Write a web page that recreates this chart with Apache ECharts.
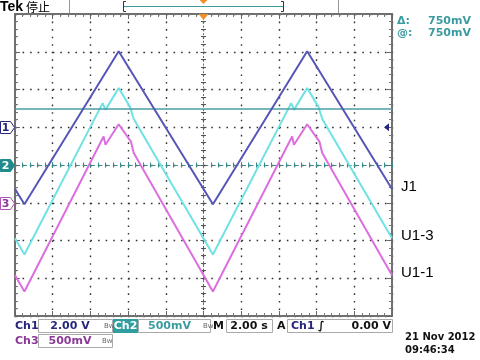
<!DOCTYPE html>
<html><head><meta charset="utf-8">
<script src="https://cdn.jsdelivr.net/npm/echarts@6/dist/echarts.min.js"></script>
<style>html,body{margin:0;padding:0;background:#fff}#c{width:480px;height:360px}</style>
</head><body><div id="c"></div>
<script>
// ---------- data (time in s, voltages in V) ----------
const j1Time  = [-10, -9.5, -4.5, 0.5, 5.5, 10];
const j1Volts = [-3.27, -4.08, 4.03, -4.08, 4.03, -3.27];

const u13Time  = [-10, -9.5, -5.35, -5.2, -4.5, -3.9, -3.7, 0.5, 4.65, 4.8, 5.5, 6.1, 6.3, 10];
const u13Volts = [-0.97, -1.185, 0.82, 0.73, 1.02, 0.77, 0.61, -1.185, 0.82, 0.73, 1.02, 0.77, 0.61, -0.97];

const u11Time  = [-10, -9.5, -5.3, -5.2, -4.5, -3.85, -3.7, 0.5, 4.7, 4.8, 5.5, 6.15, 6.3, 10];
const u11Volts = [-0.96, -1.175, 0.878, 0.768, 1.04, 0.81, 0.66, -1.175, 0.878, 0.768, 1.04, 0.81, 0.66, -0.96];

const seriesNames   = ['J1', 'U1-3', 'U1-1'];
const chVoltsPerDiv = [2.0, 0.5, 0.5];   // Ch1, Ch2, Ch3
const chGroundDiv   = [1, 0, -1];        // channel ground positions (divisions)
const cursorVolts   = 0.75;              // Ch2 cursor
const timeMin = -10, timeMax = 10, timeStep = 2;
const divMin = -4, divMax = 4;

const readCh1 = '2.00 V', readCh2 = '500mV', readCh3 = '500mV';
const readTime = '2.00 s', readTrig = '0.00 V';
const cursorDelta = '750mV', cursorAt = '750mV';
const dateText = '21 Nov 2012', timeText = '09:46:34';

// ---------- chart ----------
const chart = echarts.init(document.getElementById('c'), null, {renderer: 'canvas'});
const toDiv = (v, ch) => v / chVoltsPerDiv[ch] + chGroundDiv[ch];
const pairs = (ts, vs, ch) => ts.map((t, i) => [t, toDiv(vs[i], ch)]);

const C1 = '#5656b8', C2 = '#6fe2e4', C3 = '#dc6fdf';
const navy = '#26267e', teal = '#3a9ca0', purple = '#8a3a96';
const gridDot = {color: '#333', width: 1.4, type: [1.6, 5.95]};
const splitDot = {show: true, lineStyle: gridDot};
const xb = {type: 'value', min: timeMin, max: timeMax, interval: timeStep, axisLabel: {show: false}, splitLine: {show: false}};
const yb = {type: 'value', min: divMin, max: divMax, interval: 1, axisLabel: {show: false}, splitLine: {show: false}};
const edge = {show: true, onZero: false, lineStyle: {color: '#707070', width: 2}};
const edgeTick = {show: true, inside: true, length: 5, lineStyle: {color: '#666', width: 1}};
const edgeMinor = {show: true, splitNumber: 5, length: 3, lineStyle: {color: '#777', width: 1}};
const cTickT = {show: true, length: 3, lineStyle: {color: '#3a8a8a', width: 1}};
const cMinorT = {show: true, splitNumber: 5, length: 2.5, lineStyle: {color: '#3a8a8a', width: 1}};
const cTickG = {show: true, length: 3, lineStyle: {color: '#555', width: 1}};
const cMinorG = {show: true, splitNumber: 5, length: 2.5, lineStyle: {color: '#555', width: 1}};

function lineSeries(name, data, color) {
  return {
    name, type: 'line', data, xAxisIndex: 0, yAxisIndex: 0,
    showSymbol: false, symbol: 'none', animation: false, clip: true,
    lineStyle: {color, width: 2}, itemStyle: {color},
    endLabel: {show: true, formatter: '{a}', color: '#000', fontSize: 15,
      fontFamily: 'Liberation Sans', distance: 9, offset: [0, -2]}
  };
}

const option = {
  animation: false,
  backgroundColor: '#fff',
  grid: {left: 15, top: 14, width: 377, height: 302, containLabel: false, outerBoundsMode: 'none'},
  xAxis: [
    Object.assign({}, xb, {position: 'bottom', axisLine: {show: false, onZero: false}, axisTick: {show: false}, splitLine: splitDot}),
    Object.assign({}, xb, {position: 'bottom', axisLine: {show: true, onZero: true, onZeroAxisIndex: 0,
      lineStyle: {color: '#3a8a8a', width: 1, type: [4, 3.55]}}, axisTick: cTickT, minorTick: cMinorT}),
    Object.assign({}, xb, {position: 'top', axisLine: {show: false, onZero: true, onZeroAxisIndex: 0},
      axisTick: cTickT, minorTick: cMinorT}),
    Object.assign({}, xb, {position: 'bottom', axisLine: edge, axisTick: edgeTick, minorTick: edgeMinor}),
    Object.assign({}, xb, {position: 'top', axisLine: edge, axisTick: edgeTick, minorTick: edgeMinor})
  ],
  yAxis: [
    Object.assign({}, yb, {position: 'left', axisLine: {show: false, onZero: false}, axisTick: {show: false}, splitLine: splitDot}),
    Object.assign({}, yb, {position: 'left', axisLine: {show: true, onZero: true, onZeroAxisIndex: 0,
      lineStyle: {color: '#666', width: 1, type: [1.2, 2.6]}}, axisTick: cTickG, minorTick: cMinorG}),
    Object.assign({}, yb, {position: 'right', axisLine: {show: false, onZero: true, onZeroAxisIndex: 0},
      axisTick: cTickG, minorTick: cMinorG}),
    Object.assign({}, yb, {position: 'left', axisLine: edge, axisTick: edgeTick, minorTick: edgeMinor}),
    Object.assign({}, yb, {position: 'right', axisLine: edge, axisTick: edgeTick, minorTick: edgeMinor})
  ],
  series: [
    Object.assign(lineSeries(seriesNames[2], pairs(u11Time, u11Volts, 2), C3), {z: 3}),
    Object.assign(lineSeries(seriesNames[1], pairs(u13Time, u13Volts, 1), C2), {z: 4,
      markLine: {symbol: 'none', silent: true, animation: false, label: {show: false},
        lineStyle: {color: '#4a9ea6', width: 1.5, type: 'solid'},
        data: [{yAxis: toDiv(cursorVolts, 1)}]}}),
    Object.assign(lineSeries(seriesNames[0], pairs(j1Time, j1Volts, 0), C1), {z: 5})
  ]
};
chart.setOption(option);

// ---------- scope decorations ----------
const F = 'bold 11px "DejaVu Sans"';
function txt(x, y, s, color, font, align) {
  return {type: 'text', x: x, y: y, z: 100,
    style: {text: s, fill: color, font: font || F, textAlign: align || 'left', align: align || 'left',
      textVerticalAlign: 'middle', verticalAlign: 'middle'}};
}
function rect(x, y, w, h, fill, stroke) {
  return {type: 'rect', z: 90, shape: {x: x, y: y, width: w, height: h},
    style: {fill: fill, stroke: stroke || null, lineWidth: 1}};
}
function line(x1, y1, x2, y2, color, w) {
  return {type: 'line', z: 95, shape: {x1, y1, x2, y2}, style: {stroke: color, lineWidth: w || 1}};
}
function poly(points, fill, stroke) {
  return {type: 'polygon', z: 110, shape: {points}, style: {fill: fill, stroke: stroke || null, lineWidth: 1}};
}
function marker(label, yPx, fill, stroke, textColor) {
  const y = Math.round(yPx) + 0.5;
  return [
    poly([[0.5, y - 6], [10.5, y - 6], [14.5, y], [10.5, y + 6], [0.5, y + 6]], fill, stroke),
    Object.assign(txt(5.5, y + 0.5, label, textColor, 'bold 11px "DejaVu Sans"', 'center'), {z: 111})
  ];
}

const yPx = d => chart.convertToPixel({yAxisIndex: 0}, d);
const xPx = t => chart.convertToPixel({xAxisIndex: 0}, t);
const xc = xPx(0);
const gTop = yPx(divMax), gRight = xPx(timeMax);

const g = [];
// top bar
g.push(txt(0, 7, 'Tek', '#000', 'bold 14px "Liberation Sans"'));
g.push(txt(26, 7, '停止', '#000', '12px "Noto Sans CJK SC"'));
g.push(line(69.5, 0, 69.5, 13, '#999'));
g.push(line(338.5, 0, 338.5, 13, '#999'));
g.push(line(124, 6.5, 283, 6.5, teal, 1));
g.push({type: 'polyline', z: 95, shape: {points: [[126, 1.5], [123.5, 1.5], [123.5, 11.5], [126, 11.5]]}, style: {stroke: '#333', lineWidth: 1, fill: null}});
g.push({type: 'polyline', z: 95, shape: {points: [[281, 1.5], [283.5, 1.5], [283.5, 11.5], [281, 11.5]]}, style: {stroke: '#333', lineWidth: 1, fill: null}});
g.push(poly([[xc - 4, 0], [xc + 4, 0], [xc, 4]], '#f0902a'));
g.push(poly([[xc - 5, gTop], [xc + 5, gTop], [xc, gTop + 6]], '#f0902a'));
// cursor readouts
g.push(txt(397, 21, 'Δ:', teal, F));
g.push(txt(428, 21, cursorDelta, teal, F));
g.push(txt(397, 33, '@:', teal, F));
g.push(txt(428, 33, cursorAt, teal, F));
// channel ground markers
g.push(...marker('1', yPx(chGroundDiv[0]), '#fff', navy, navy));
g.push(...marker('2', yPx(chGroundDiv[1]), '#1e8c8c', '#1e8c8c', '#fff'));
g.push(...marker('3', yPx(chGroundDiv[2]), '#fff', '#b050b0', purple));
// trigger level marker (Ch1 0.00 V)
const ty = yPx(chGroundDiv[0]);
g.push(poly([[gRight - 8, ty], [gRight - 3, ty - 4], [gRight - 3, ty + 4]], navy));
// bottom readouts row 1
const r1 = 326, r2 = 341;
g.push(txt(15, r1, 'Ch1', navy));
g.push(rect(38.5, r1 - 6.5, 74, 13, '#fff', '#aaa'));
g.push(txt(70, r1, readCh1, navy, F, 'center'));
g.push(txt(104, r1, 'Bw', '#666', '7px "DejaVu Sans"'));
g.push(rect(113, r1 - 7, 25, 14, '#2f9e9e'));
g.push(txt(125.5, r1, 'Ch2', '#fff', F, 'center'));
g.push(rect(138.5, r1 - 6.5, 72, 13, '#fff', '#aaa'));
g.push(txt(169.5, r1, readCh2, teal, F, 'center'));
g.push(txt(203, r1, 'Bw', '#666', '7px "DejaVu Sans"'));
g.push(txt(213, r1, 'M', '#111', F));
g.push(rect(226.5, r1 - 6.5, 46, 13, '#fff', '#aaa'));
g.push(txt(249, r1, readTime, '#111', F, 'center'));
g.push(txt(277, r1, 'A', '#111', F));
g.push(rect(287.5, r1 - 6.5, 105, 13, '#fff', '#aaa'));
g.push(txt(291, r1, 'Ch1', navy, F));
g.push(txt(318, r1, '∫', '#111', 'bold 11px "DejaVu Sans"'));
g.push(txt(391, r1, readTrig, '#111', F, 'right'));
// row 2
g.push(txt(15, r2, 'Ch3', purple));
g.push(rect(38.5, r2 - 6.5, 74, 13, '#fff', '#aaa'));
g.push(txt(70, r2, readCh3, purple, F, 'center'));
g.push(txt(102, r2, 'Bw', '#666', '7px "DejaVu Sans"'));
// date/time
g.push(txt(405, 337, dateText, '#111', 'bold 10px "DejaVu Sans"'));
g.push(txt(405, 350, timeText, '#111', 'bold 10px "DejaVu Sans"'));

chart.setOption({graphic: {elements: g}});
</script>
</body></html>
